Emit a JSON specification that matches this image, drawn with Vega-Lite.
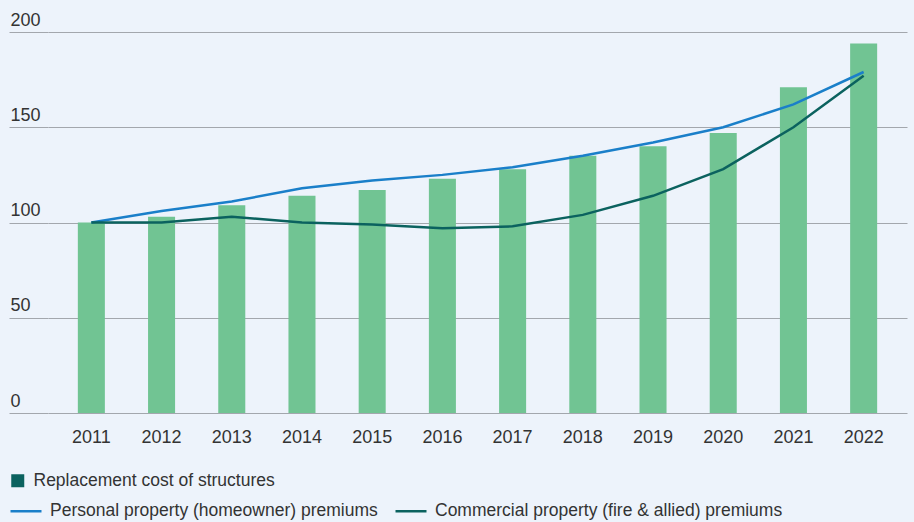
{
  "$schema": "https://vega.github.io/schema/vega-lite/v6.json",
  "width": 859,
  "height": 381,
  "autosize": {"type": "none"},
  "padding": {"left": 48, "top": 32, "right": 7, "bottom": 109},
  "background": "#edf3fb",
  "config": {
    "view": {"stroke": null},
    "font": "Liberation Sans",
    "axis": {"labelFont": "Liberation Sans", "labelColor": "#333333", "labelFontSize": 18},
    "legend": {"labelFont": "Liberation Sans", "labelColor": "#333333", "labelFontSize": 17.5, "labelLimit": 0}
  },
  "datasets": {
    "bars": [
      {"year": "2011", "series": "Replacement cost of structures", "value": 100},
      {"year": "2012", "series": "Replacement cost of structures", "value": 103},
      {"year": "2013", "series": "Replacement cost of structures", "value": 109},
      {"year": "2014", "series": "Replacement cost of structures", "value": 114},
      {"year": "2015", "series": "Replacement cost of structures", "value": 117},
      {"year": "2016", "series": "Replacement cost of structures", "value": 123},
      {"year": "2017", "series": "Replacement cost of structures", "value": 128},
      {"year": "2018", "series": "Replacement cost of structures", "value": 135},
      {"year": "2019", "series": "Replacement cost of structures", "value": 140},
      {"year": "2020", "series": "Replacement cost of structures", "value": 147},
      {"year": "2021", "series": "Replacement cost of structures", "value": 171},
      {"year": "2022", "series": "Replacement cost of structures", "value": 194}
    ],
    "lines": [
      {"year": "2011", "series": "Personal property (homeowner) premiums", "value": 100},
      {"year": "2012", "series": "Personal property (homeowner) premiums", "value": 106},
      {"year": "2013", "series": "Personal property (homeowner) premiums", "value": 111},
      {"year": "2014", "series": "Personal property (homeowner) premiums", "value": 118},
      {"year": "2015", "series": "Personal property (homeowner) premiums", "value": 122},
      {"year": "2016", "series": "Personal property (homeowner) premiums", "value": 125},
      {"year": "2017", "series": "Personal property (homeowner) premiums", "value": 129},
      {"year": "2018", "series": "Personal property (homeowner) premiums", "value": 135},
      {"year": "2019", "series": "Personal property (homeowner) premiums", "value": 142},
      {"year": "2020", "series": "Personal property (homeowner) premiums", "value": 150},
      {"year": "2021", "series": "Personal property (homeowner) premiums", "value": 162},
      {"year": "2022", "series": "Personal property (homeowner) premiums", "value": 179},
      {"year": "2011", "series": "Commercial property (fire & allied) premiums", "value": 100},
      {"year": "2012", "series": "Commercial property (fire & allied) premiums", "value": 100},
      {"year": "2013", "series": "Commercial property (fire & allied) premiums", "value": 103},
      {"year": "2014", "series": "Commercial property (fire & allied) premiums", "value": 100},
      {"year": "2015", "series": "Commercial property (fire & allied) premiums", "value": 99},
      {"year": "2016", "series": "Commercial property (fire & allied) premiums", "value": 97},
      {"year": "2017", "series": "Commercial property (fire & allied) premiums", "value": 98},
      {"year": "2018", "series": "Commercial property (fire & allied) premiums", "value": 104},
      {"year": "2019", "series": "Commercial property (fire & allied) premiums", "value": 114},
      {"year": "2020", "series": "Commercial property (fire & allied) premiums", "value": 128},
      {"year": "2021", "series": "Commercial property (fire & allied) premiums", "value": 150},
      {"year": "2022", "series": "Commercial property (fire & allied) premiums", "value": 177}
    ]
  },
  "encoding": {
    "x": {
      "field": "year",
      "type": "ordinal",
      "scale": {"paddingInner": 0.615, "paddingOuter": 0.425},
      "axis": {"title": null, "labelAngle": 0, "ticks": false, "domain": false, "labelPadding": 15, "labelBaseline": "top"}
    },
    "y": {
      "field": "value",
      "type": "quantitative",
      "scale": {"domain": [0, 200], "nice": false},
      "axis": {
        "title": null,
        "values": [0, 50, 100, 150, 200],
        "domain": false,
        "grid": true,
        "gridColor": "#a3a7ad",
        "gridWidth": 1.2,
        "gridOpacity": 1,
        "ticks": true,
        "tickSize": 39,
        "tickColor": "#a3a7ad",
        "tickWidth": 1.2,
        "labelAlign": "left",
        "labelBaseline": "alphabetic",
        "labelPadding": -1,
        "labelOffset": -7
      }
    }
  },
  "layer": [
    {
      "data": {"name": "bars"},
      "mark": {"type": "bar", "fill": "#71c493"},
      "encoding": {
        "color": {
          "field": "series",
          "type": "nominal",
          "scale": {"range": ["#0b625f"]},
          "legend": {
            "title": null,
            "orient": "none",
            "legendX": -39,
            "legendY": 440,
            "symbolType": "square",
            "symbolSize": 169,
            "symbolStrokeWidth": 0,
            "symbolFillColor": "#0b625f",
            "symbolOpacity": 1,
            "labelOffset": 7
          }
        }
      }
    },
    {
      "data": {"name": "lines"},
      "mark": {"type": "line", "strokeWidth": 2.5},
      "encoding": {
        "stroke": {
          "field": "series",
          "type": "nominal",
          "sort": ["Personal property (homeowner) premiums", "Commercial property (fire & allied) premiums"],
          "scale": {"domain": ["Personal property (homeowner) premiums", "Commercial property (fire & allied) premiums"], "range": ["#1a7fc9", "#0b625f"]},
          "legend": {
            "title": null,
            "orient": "none",
            "legendX": -39,
            "legendY": 462,
            "direction": "horizontal",
            "columns": 2,
            "symbolType": "stroke",
            "symbolSize": 961,
            "symbolStrokeWidth": 2.5,
            "labelOffset": 7,
            "columnPadding": 12
          }
        }
      }
    }
  ]
}
